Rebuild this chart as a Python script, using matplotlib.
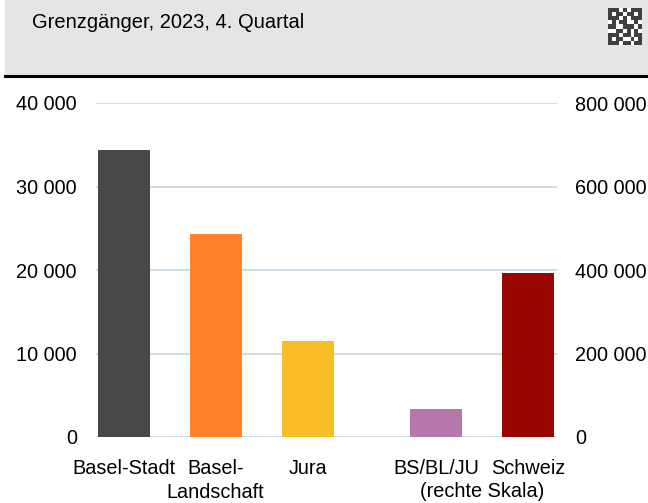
import matplotlib.pyplot as plt
import matplotlib.patches as mpatches
import numpy as np

plt.rcParams['font.family'] = ['Liberation Sans', 'DejaVu Sans']

# data
regions_left = ["Basel-Stadt", "Basel-\nLandschaft", "Jura"]
values_left = [34400, 24300, 11500]
regions_right = ["BS/BL/JU", "Schweiz"]
values_right = [67000, 392000]
colors_left = ["#484848", "#FF832B", "#F9BE27"]
colors_right = ["#B478AC", "#9A0500"]
left_ticks = [0, 10000, 20000, 30000, 40000]
right_ticks = [0, 200000, 400000, 600000, 800000]

def fmt(v):
    return f"{v:,}".replace(",", " ")

W, H = 648, 503
fig = plt.figure(figsize=(W / 100, H / 100), dpi=100)

# header band
fig.patches.append(mpatches.Rectangle((5 / W, 1 - 74 / H), 1, 74 / H, transform=fig.transFigure,
                                      color="#E5E5E5", zorder=0))
fig.add_artist(plt.Line2D([5 / W, 1], [1 - 76 / H, 1 - 76 / H], color="black", lw=2.2))
fig.text(32 / W, 1 - 23 / H, "Grenzgänger, 2023, 4. Quartal", fontsize=14.5, va="center")

# small QR-like glyph
qr = fig.add_axes([608 / W, 1 - 45 / H, 34 / W, 37 / H], zorder=5)
pattern = np.array([
    [1, 1, 1, 0, 1, 0, 1, 1, 1],
    [1, 0, 1, 1, 0, 1, 1, 0, 1],
    [1, 1, 1, 0, 1, 0, 1, 1, 1],
    [0, 1, 0, 1, 1, 0, 0, 1, 0],
    [1, 1, 0, 0, 1, 1, 1, 0, 1],
    [0, 0, 1, 1, 0, 1, 0, 1, 0],
    [1, 1, 1, 0, 1, 1, 0, 1, 1],
    [1, 0, 1, 1, 0, 0, 1, 0, 1],
    [1, 1, 1, 0, 1, 1, 0, 1, 1],
])
qr.imshow(pattern, cmap="Greys", vmin=0, vmax=1.25, interpolation="nearest", aspect="auto")
qr.axis("off")

ax = fig.add_axes([96 / W, 1 - 437 / H, 461 / W, 334 / H])
ax2 = ax.twinx()

pos_left = [0, 1, 2]
pos_right = [3.4, 4.4]
w = 0.565

ax.bar(pos_left, values_left, width=w, color=colors_left, zorder=3)
ax2.bar(pos_right, values_right, width=w, color=colors_right, zorder=3)

ax.set_xlim(-0.30, 4.71)
ax.set_ylim(0, 40000)
ax2.set_ylim(0, 800000)
ax.set_yticks(left_ticks)
ax.set_yticklabels([fmt(v) for v in left_ticks])
ax2.set_yticks(right_ticks)
ax2.set_yticklabels([fmt(v) for v in right_ticks])
ax.yaxis.grid(True, color="#C9DAE3", lw=1.3, zorder=0)
ax.set_axisbelow(True)

for a in (ax, ax2):
    for s in a.spines.values():
        s.set_visible(False)
    a.tick_params(axis="y", length=0, labelsize=14.3)
ax.tick_params(axis="y", pad=13.7)
ax2.tick_params(axis="y", pad=13)

ax.set_xticks(pos_left + pos_right)
ax.set_xticklabels(regions_left + regions_right, fontsize=14.3, va="top", linespacing=1.3)
ax.tick_params(axis="x", length=0, pad=16)
ax.text(np.mean(pos_right), (437 - 497) / 334, "(rechte Skala)", transform=ax.get_xaxis_transform(),
        ha="center", va="baseline", fontsize=14.3)

plt.savefig("out.png", dpi=100)
